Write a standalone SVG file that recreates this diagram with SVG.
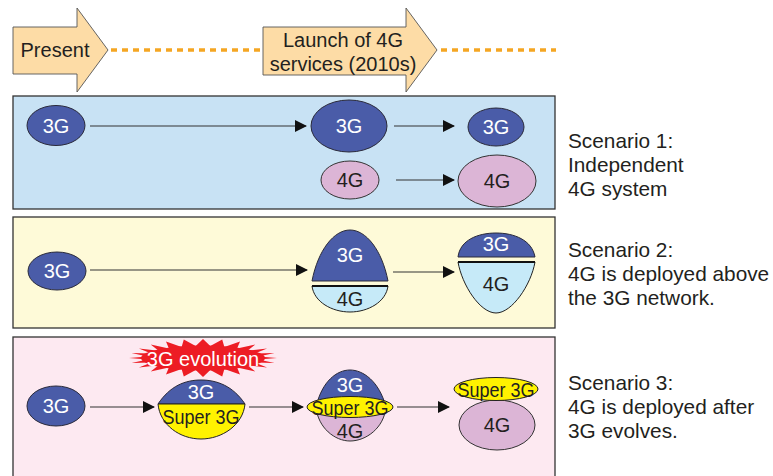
<svg xmlns="http://www.w3.org/2000/svg" width="773" height="476" viewBox="0 0 773 476">
  <style>
    text { font-family: "Liberation Sans", Arial, sans-serif; font-size: 20px; fill: #231f20; }
    .mid { text-anchor: middle; }
    .w { fill: #ffffff; }
    .cap { font-size: 20.8px; }
    .sup { font-size: 21px; }
    .timeline { fill: #fddca6; stroke: #555; stroke-width: 0.9; }
    .dots { stroke: #f5a623; stroke-width: 3.5; stroke-dasharray: 6 5; fill: none; }
    .panel { stroke: #333; stroke-width: 1.3; }
    .n3g { fill: #4a5ca8; stroke: #2a2a3a; stroke-width: 1; }
    .n4g { fill: #dcb5d6; stroke: #333; stroke-width: 1; }
    .nlb { fill: #c6eaf8; stroke: #222; stroke-width: 1; }
    .nsup { fill: #fff200; stroke: #222; stroke-width: 1; }
    .sep { stroke: #111; stroke-width: 2; }
    .conn { stroke: #333; stroke-width: 1.2; fill: none; marker-end: url(#head); }
  </style>
  <defs>
    <marker id="head" viewBox="0 0 12 12" refX="11" refY="6" markerWidth="12" markerHeight="12" markerUnits="userSpaceOnUse" orient="auto">
      <path d="M0,0 L12,6 L0,12 Z" fill="#111"/>
    </marker>
  </defs>

  <!-- timeline -->
  <g id="timeline">
    <line class="dots" x1="111" y1="50" x2="262" y2="50"/>
    <line class="dots" x1="441" y1="50" x2="556" y2="50"/>
    <g id="present">
      <path class="timeline" d="M13,27 L77,27 L77,8 L108,50 L77,92 L77,74 L13,74 Z"/>
      <text class="mid" x="55" y="57">Present</text>
    </g>
    <g id="launch">
      <path class="timeline" d="M263,27 L406,27 L406,8 L437,50 L406,92 L406,75 L263,75 Z"/>
      <text class="mid" x="343" y="47">Launch of 4G</text>
      <text class="mid" x="343" y="71">services (2010s)</text>
    </g>
  </g>

  <!-- scenario panels -->
  <rect class="panel" x="13" y="96" width="542" height="113" fill="#c8e2f4"/>
  <rect class="panel" x="13" y="217" width="542" height="111" fill="#fefad8"/>
  <rect class="panel" x="13" y="337" width="542" height="150" fill="#fde9f1"/>

  <!-- connectors -->
  <g id="connectors">
    <line class="conn" x1="90" y1="126" x2="306" y2="126"/>
    <line class="conn" x1="394" y1="126" x2="454" y2="126"/>
    <line class="conn" x1="396" y1="180" x2="454" y2="180"/>
    <line class="conn" x1="90" y1="270" x2="307" y2="270"/>
    <line class="conn" x1="393" y1="272" x2="454" y2="272"/>
    <line class="conn" x1="90" y1="407" x2="154" y2="407"/>
    <line class="conn" x1="249" y1="407" x2="303" y2="407"/>
    <line class="conn" x1="397" y1="407" x2="449" y2="407"/>
  </g>

  <!-- scenario 1 -->
  <g id="s1-3g-now">
    <ellipse class="n3g" cx="56" cy="125.5" rx="29" ry="20"/>
    <text class="mid w" x="56" y="133">3G</text>
  </g>
  <g id="s1-3g-launch">
    <ellipse class="n3g" cx="349" cy="126" rx="38" ry="26"/>
    <text class="mid w" x="349" y="133">3G</text>
  </g>
  <g id="s1-3g-after">
    <ellipse class="n3g" cx="496" cy="127" rx="28" ry="19"/>
    <text class="mid w" x="496" y="134">3G</text>
  </g>
  <g id="s1-4g-launch">
    <ellipse class="n4g" cx="350" cy="180" rx="29" ry="19"/>
    <text class="mid" x="350" y="187">4G</text>
  </g>
  <g id="s1-4g-after">
    <ellipse class="n4g" cx="497" cy="181" rx="39" ry="26"/>
    <text class="mid" x="497" y="188">4G</text>
  </g>

  <!-- scenario 2 -->
  <g id="s2-3g-now">
    <ellipse class="n3g" cx="57" cy="271" rx="29" ry="19"/>
    <text class="mid w" x="57" y="278">3G</text>
  </g>
  <g id="s2-launch">
    <path class="n3g" d="M312,281 C318,250 334,230 350,230 C366,230 382,250 388,281 Z"/>
    <path class="nlb" d="M312,286 L388,286 C386,302 368,312 350,312 C332,312 314,302 312,286 Z"/>
    <line class="sep" x1="312" y1="286" x2="388" y2="286"/>
    <text class="mid w" x="350" y="262">3G</text>
    <text class="mid" x="350" y="306">4G</text>
  </g>
  <g id="s2-after">
    <path class="n3g" d="M458,257 C460,240 478,233 496,233 C514,233 532,240 535,257 Z"/>
    <path class="nlb" d="M458,262 L535,262 C531,285 512,313 496,313 C480,313 462,285 458,262 Z"/>
    <line class="sep" x1="458" y1="262" x2="535" y2="262"/>
    <text class="mid w" x="496" y="251">3G</text>
    <text class="mid" x="496" y="291">4G</text>
  </g>

  <!-- scenario 3 -->
  <g id="s3-3g-now">
    <ellipse class="n3g" cx="56" cy="406" rx="29" ry="20"/>
    <text class="mid w" x="56" y="413">3G</text>
  </g>
  <g id="s3-evolution">
    <polygon fill="#ed1c24" points="277,358 258.5,359.6 274.5,362.9 254.7,362.6 267.1,367.5 247.4,365.3 255.3,371.4 237.1,367.5 240,374.5 224.4,369.1 222.2,376.4 210.3,369.9 203,377 195.7,369.9 183.8,376.4 181.6,369.1 166,374.5 168.9,367.5 150.7,371.4 158.6,365.3 138.9,367.5 151.3,362.6 131.5,362.9 147.5,359.6 129,358 147.5,356.4 131.5,353.1 151.3,353.4 138.9,348.5 158.6,350.7 150.7,344.6 168.9,348.5 166,341.5 181.6,346.9 183.8,339.6 195.7,346.1 203,339 210.3,346.1 222.2,339.6 224.4,346.9 240,341.5 237.1,348.5 255.3,344.6 247.4,350.7 267.1,348.5 254.7,353.4 274.5,353.1 258.5,356.4"/>
    <ellipse cx="203" cy="358" rx="62" ry="12.5" fill="#ed1c24"/>
    <text class="mid w" x="203" y="366">3G evolution</text>
  </g>
  <g id="s3-launch">
    <path class="n3g" d="M158,404 C170,386 185,380 201,380 C217,380 233,386 245,404 Z"/>
    <path class="nsup" d="M158,404 L245,404 C243,425 222,439 201,439 C180,439 160,425 158,404 Z"/>
    <text class="mid w" x="201" y="399">3G</text>
    <text class="mid sup" x="201" y="424" textLength="77" lengthAdjust="spacingAndGlyphs">Super 3G</text>
  </g>
  <g id="s3-mid">
    <path class="n3g" d="M316,407 C322,381 337,370 350,370 C363,370 379,381 386,407 Z"/>
    <path class="n4g" d="M316,407 C318,428 335,441 350,441 C366,441 384,428 386,407 Z"/>
    <ellipse class="nsup" cx="350" cy="407" rx="43" ry="10.5"/>
    <text class="mid w" x="350" y="392">3G</text>
    <text class="mid sup" x="350" y="414.5" textLength="77" lengthAdjust="spacingAndGlyphs">Super 3G</text>
    <text class="mid" x="350" y="438">4G</text>
  </g>
  <g id="s3-after">
    <ellipse class="n4g" cx="497" cy="425" rx="38" ry="25"/>
    <ellipse class="nsup" cx="496" cy="389" rx="42" ry="11.5"/>
    <text class="mid sup" x="496" y="396.5" textLength="77" lengthAdjust="spacingAndGlyphs">Super 3G</text>
    <text class="mid" x="497" y="432">4G</text>
  </g>

  <!-- scenario captions -->
  <g id="caption-1">
    <text class="cap" x="568" y="148">Scenario 1:</text>
    <text class="cap" x="568" y="172">Independent</text>
    <text class="cap" x="568" y="196">4G system</text>
  </g>
  <g id="caption-2">
    <text class="cap" x="568" y="257">Scenario 2:</text>
    <text class="cap" x="568" y="281">4G is deployed above</text>
    <text class="cap" x="568" y="305">the 3G network.</text>
  </g>
  <g id="caption-3">
    <text class="cap" x="568" y="390">Scenario 3:</text>
    <text class="cap" x="568" y="414">4G is deployed after</text>
    <text class="cap" x="568" y="438">3G evolves.</text>
  </g>
</svg>
